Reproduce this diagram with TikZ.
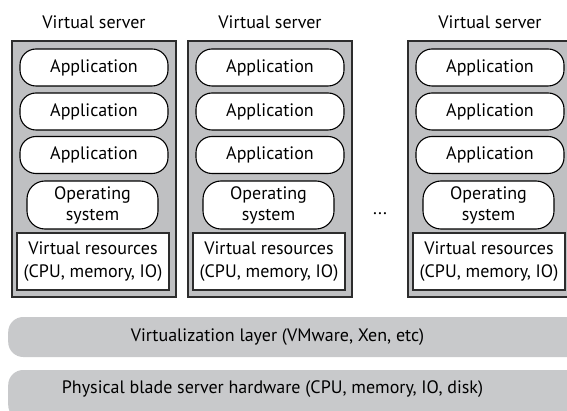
\documentclass[tikz,border=0pt]{standalone}
\usepackage{fontspec}
\setmainfont{PT Sans}
\usepackage{xcolor}
\definecolor{vsgray}{RGB}{191,192,194}
\definecolor{laygray}{RGB}{200,201,203}
\definecolor{vsline}{RGB}{45,45,45}
\usetikzlibrary{positioning}

\begin{document}
\begin{tikzpicture}[x=1pt,y=-1pt,font=\fontsize{18}{21}\selectfont,
  vserver/.style={draw=vsline,line width=1.4pt,fill=vsgray,minimum width=164pt,minimum height=256pt,inner sep=0pt},
  app/.style={draw=black,line width=1.1pt,fill=white,rounded corners=16pt,minimum width=148pt,minimum height=37pt,inner sep=0pt},
  ossys/.style={draw=black,line width=1.1pt,fill=white,rounded corners=18pt,minimum width=131pt,minimum height=48pt,inner sep=0pt,align=center,font=\fontsize{18}{21}\selectfont},
  vres/.style={draw=vsline,line width=1.1pt,fill=white,minimum width=152pt,minimum height=57pt,inner sep=0pt,align=center,font=\fontsize{18}{22.5}\selectfont},
  layer/.style={fill=laygray,rounded corners=15pt,minimum width=620pt,anchor=west,inner sep=0pt}]
  \useasboundingbox (0,0) rectangle (567,411);
  % first virtual server
  \node (lab1) at (94,22) {Virtual server};
  \node[vserver] (vs1) at (94,169) {};
  \node[app] (a11) at (94,67.5) {Application};
  \node[app] (a12) at (94,111.5) {Application};
  \node[app] (a13) at (94,155) {Application};
  \node[ossys] (os1) at (92.5,205) {Operating\\system};
  \node[vres] (vr1) at (93,261.5) {Virtual resources\\(CPU, memory, IO)};
  % second virtual server
  \node (lab2) at (270,22) {Virtual server};
  \node[vserver] (vs2) at (270,169) {};
  \node[app] (a21) at (270,67.5) {Application};
  \node[app] (a22) at (270,111.5) {Application};
  \node[app] (a23) at (270,155) {Application};
  \node[ossys] (os2) at (268.5,205) {Operating\\system};
  \node[vres] (vr2) at (269,261.5) {Virtual resources\\(CPU, memory, IO)};
  \node (dots) at (380,214) {...};
  % last virtual server
  \node (lab3) at (490,22) {Virtual server};
  \node[vserver] (vs3) at (490,169) {};
  \node[app] (a31) at (490,67.5) {Application};
  \node[app] (a32) at (490,111.5) {Application};
  \node[app] (a33) at (490,155) {Application};
  \node[ossys] (os3) at (488.5,205) {Operating\\system};
  \node[vres] (vr3) at (489,261.5) {Virtual resources\\(CPU, memory, IO)};
  % layers
  \node[layer,minimum height=40pt] (virt) at (8,337) {};
  \node (virttxt) at (277.5,337) {Virtualization layer (VMware, Xen, etc)};
  \node[layer,minimum height=50pt] (phys) at (8,395) {};
  \node (phystxt) at (272.5,389) {Physical blade server hardware (CPU, memory, IO, disk)};
\end{tikzpicture}
\end{document}
